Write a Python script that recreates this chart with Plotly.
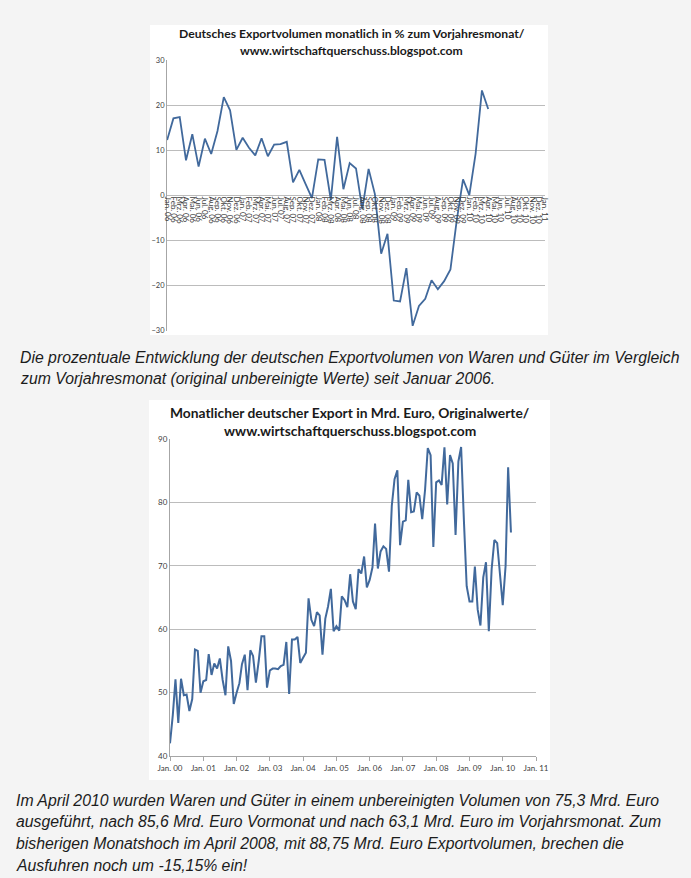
import plotly.graph_objects as go
import pandas as pd

W, H = 691, 878


def px(x):
    return x / W


def py(y):
    return 1 - y / H


# ---------------- data ----------------
months_de = ["Jan.", "Feb.", "Mrz.", "Apr.", "Mai.", "Jun.", "Jul.", "Aug.",
             "Sep.", "Okt.", "Nov.", "Dez."]
top_categories = [f"{m} {y:02d}" for y in range(6, 11) for m in months_de] + ["Jan. 11"]

yoy_2006 = [12.3, 17.1, 17.4, 7.8, 13.6, 6.4, 12.6, 9.2, 14.3, 21.8, 18.9, 10.1]
yoy_2007 = [12.8, 10.6, 8.9, 12.7, 8.7, 11.3, 11.4, 11.9, 2.9, 5.7, 2.5, -0.6]
yoy_2008 = [8.0, 7.9, -1.0, 13.0, 1.4, 7.2, 6.0, -3.0, 5.9, 0.3, -12.9, -8.5]
yoy_2009 = [-23.3, -23.5, -16.1, -28.9, -24.5, -22.9, -18.8, -20.8, -19.0, -16.4, -5.5, 3.6]
yoy_2010 = [0.1, 9.3, 23.3, 19.2]
yoy_values = yoy_2006 + yoy_2007 + yoy_2008 + yoy_2009 + yoy_2010

exp_2000 = [42.0, 46.5, 52.1, 45.2, 52.2, 49.6, 49.7, 47.1, 49.0, 56.8, 56.6, 50.0]
exp_2001 = [51.8, 52.0, 56.1, 52.8, 54.6, 53.8, 55.4, 52.0, 49.6, 57.3, 55.0, 48.2]
exp_2002 = [50.0, 51.5, 54.5, 56.0, 50.4, 56.7, 55.8, 51.6, 55.0, 58.9, 58.9, 50.8]
exp_2003 = [53.5, 53.8, 53.8, 53.7, 54.2, 54.4, 58.0, 49.8, 58.4, 58.4, 58.8, 54.7]
exp_2004 = [55.5, 56.3, 64.9, 61.5, 60.5, 62.7, 62.2, 56.0, 61.7, 63.6, 66.4, 59.7]
exp_2005 = [60.5, 59.8, 65.2, 64.6, 63.5, 68.7, 64.4, 63.2, 69.5, 68.8, 71.5, 66.6]
exp_2006 = [67.8, 69.8, 76.7, 69.6, 72.3, 73.1, 72.7, 69.1, 79.5, 83.7, 85.1, 73.3]
exp_2007 = [77.0, 77.2, 83.6, 78.5, 78.6, 81.6, 81.1, 77.4, 82.0, 88.6, 87.5, 73.0]
exp_2008 = [83.2, 83.5, 82.8, 88.75, 79.7, 87.5, 86.2, 74.9, 86.5, 88.8, 77.0, 66.8]
exp_2009 = [64.4, 64.4, 69.9, 63.1, 60.6, 68.2, 70.6, 59.7, 69.5, 74.1, 73.6, 69.0]
exp_2010 = [63.8, 70.0, 85.6, 75.3]
export_values = (exp_2000 + exp_2001 + exp_2002 + exp_2003 + exp_2004 + exp_2005
                 + exp_2006 + exp_2007 + exp_2008 + exp_2009 + exp_2010)
export_dates = pd.date_range("2000-01-01", periods=len(export_values), freq="MS")

bottom_tickvals = [f"{y}-01-01" for y in range(2000, 2012)]
bottom_ticktext = [f"Jan. {y % 100:02d}" for y in range(2000, 2012)]

top_title = ["Deutsches Exportvolumen monatlich in % zum Vorjahresmonat/",
             "www.wirtschaftquerschuss.blogspot.com"]
bottom_title = ["Monatlicher deutscher Export in Mrd. Euro, Originalwerte/",
                "www.wirtschaftquerschuss.blogspot.com"]
caption1 = ["Die prozentuale Entwicklung der deutschen Exportvolumen von Waren und Güter im Vergleich",
            "zum Vorjahresmonat (original unbereinigte Werte) seit Januar 2006."]
caption2 = ["Im April 2010 wurden Waren und Güter in einem unbereinigten Volumen von 75,3 Mrd. Euro",
            "ausgeführt, nach 85,6 Mrd. Euro Vormonat und nach 63,1 Mrd. Euro im Vorjahrsmonat. Zum",
            "bisherigen Monatshoch im April 2008, mit 88,75 Mrd. Euro Exportvolumen, brechen die",
            "Ausfuhren noch um -15,15% ein!"]

# ---------------- styling ----------------
LINE = "#41699c"
GRID = "#bcbcbc"
AXIS = "#a6a6a6"
TICKC = "#404040"
BG = "#f4f4f4"

fig = go.Figure()

fig.add_trace(go.Scatter(
    x=top_categories[:len(yoy_values)], y=yoy_values, mode="lines",
    line=dict(color=LINE, width=1.8), xaxis="x", yaxis="y", showlegend=False,
))
fig.add_trace(go.Scatter(
    x=export_dates, y=export_values, mode="lines",
    line=dict(color=LINE, width=2), xaxis="x2", yaxis="y2", showlegend=False,
))

zero_pos = py(60 + (331 - 60) / 2)

fig.update_layout(
    width=W, height=H,
    margin=dict(l=0, r=0, t=0, b=0, pad=0, autoexpand=False),
    paper_bgcolor=BG, plot_bgcolor="white",
    xaxis=dict(
        domain=[px(167), px(545)], anchor="free", position=zero_pos,
        type="category", categoryorder="array", categoryarray=top_categories,
        tickmode="array", tickvals=top_categories, ticktext=top_categories,
        range=[-0.02, 60.02], tickangle=90,
        tickfont=dict(family="Lato", size=8, color=TICKC),
        showgrid=False, showline=False, ticks="", zeroline=False,
    ),
    yaxis=dict(
        domain=[py(331), py(60)], anchor="x", range=[-30.05, 30.05],
        tickmode="array", tickvals=[-30, -20, -10, 0, 10, 20, 30],
        tickfont=dict(family="Lato", size=7.5, color=TICKC),
        showgrid=True, gridcolor=GRID, gridwidth=1,
        showline=True, linecolor=AXIS, linewidth=1,
        zeroline=False, ticks="",
    ),
    xaxis2=dict(
        domain=[px(170), px(536)], anchor="y2", type="date",
        range=["2000-01-01", "2011-01-01"],
        tickmode="array", tickvals=bottom_tickvals, ticktext=bottom_ticktext,
        tickfont=dict(family="Lato", size=8, color=TICKC),
        ticks="outside", ticklen=4, tickcolor=AXIS,
        showgrid=False, showline=True, linecolor=AXIS, linewidth=1, zeroline=False,
    ),
    yaxis2=dict(
        domain=[py(756), py(439)], anchor="x2", range=[40, 90.05],
        tickmode="array", tickvals=[40, 50, 60, 70, 80, 90],
        tickfont=dict(family="Lato", size=8, color=TICKC),
        showgrid=True, gridcolor=GRID, gridwidth=1,
        showline=True, linecolor=AXIS, linewidth=1,
        zeroline=False, ticks="",
    ),
    shapes=[
        dict(type="rect", xref="paper", yref="paper", x0=px(150), x1=px(548),
             y0=py(335), y1=py(25), fillcolor="white", line=dict(width=0), layer="below"),
        dict(type="rect", xref="paper", yref="paper", x0=px(149), x1=px(550),
             y0=py(780), y1=py(400), fillcolor="white", line=dict(width=0), layer="below"),
    ],
)

annotations = []
for i, t in enumerate(top_title):
    annotations.append(dict(
        text=f"<b>{t}</b>", x=px(352), y=py(34 + i * 16), xref="paper", yref="paper",
        xanchor="center", yanchor="middle", showarrow=False,
        font=dict(family="Lato", size=12.2, color="#1a1a1a"),
    ))
for i, t in enumerate(bottom_title):
    annotations.append(dict(
        text=f"<b>{t}</b>", x=px(350), y=py(413 + i * 17.5), xref="paper", yref="paper",
        xanchor="center", yanchor="middle", showarrow=False,
        font=dict(family="Lato", size=13.8, color="#1a1a1a"),
    ))
for i, t in enumerate(caption1):
    annotations.append(dict(
        text=f"<i>{t}</i>", x=px(18), y=py(358 + i * 20), xref="paper", yref="paper",
        xanchor="left", yanchor="middle", showarrow=False,
        font=dict(family="Liberation Sans", size=15.8, color="#1c1c1c"),
    ))
for i, t in enumerate(caption2):
    annotations.append(dict(
        text=f"<i>{t}</i>", x=px(14), y=py(800 + i * 21.7), xref="paper", yref="paper",
        xanchor="left", yanchor="middle", showarrow=False,
        font=dict(family="Liberation Sans", size=15.8, color="#1c1c1c"),
    ))
fig.update_layout(annotations=annotations)

fig.write_html(
    "out.html",
    config={"displayModeBar": False},
    post_script="document.body.style.margin='0';document.body.style.overflow='hidden';",
)
